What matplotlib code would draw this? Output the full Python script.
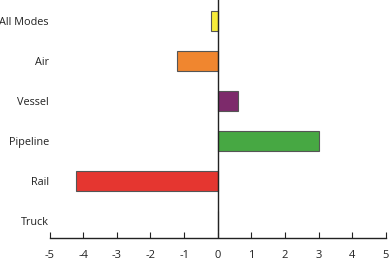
import matplotlib
matplotlib.use("Agg")
import matplotlib.pyplot as plt

categories = ["Truck", "Rail", "Pipeline", "Vessel", "Air", "All Modes"]
values = [0.0, -4.2, 3.0, 0.6, -1.2, -0.2]
colors = ["#ffffff", "#e53630", "#47a843", "#7d2a6b", "#f0862f", "#f7ec3a"]
xticks = [-5, -4, -3, -2, -1, 0, 1, 2, 3, 4, 5]

plt.rcParams['font.family'] = ['Open Sans', 'DejaVu Sans']

fig = plt.figure(figsize=(3.89, 2.61), dpi=100)
ax = fig.add_axes([49.5/389, (261-237.7)/261, (386-49.5)/389, 237.7/261])

pos = list(range(len(categories)))
ax.barh(pos, values, height=0.5, color=colors, edgecolor="#555555", linewidth=0.8)
ax.axvline(0, color="#222222", linewidth=1.0)

ax.set_xlim(-5, 5)
ax.set_ylim(-0.425, 5.52)
ax.set_xticks(xticks)
ax.set_xticklabels([str(t) for t in xticks])
ax.set_yticks(pos)
ax.set_yticklabels(categories)

for s in ["top", "right", "left"]:
    ax.spines[s].set_visible(False)
ax.spines["bottom"].set_color("#222222")
ax.spines["bottom"].set_linewidth(1.0)

ax.tick_params(axis="x", direction="in", length=4.3, width=0.8, color="#222222",
               pad=9, labelsize=8, labelcolor="#222222")
ax.tick_params(axis="y", length=0, pad=0.5, labelsize=7.8, labelcolor="#222222")

fig.savefig("out.png", dpi=100)
